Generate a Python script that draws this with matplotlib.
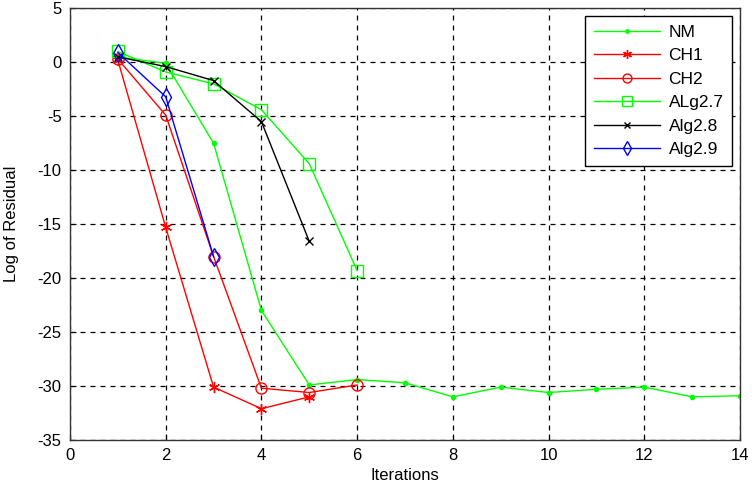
import matplotlib
matplotlib.use("Agg")
import matplotlib.pyplot as plt

plt.rcParams['font.family'] = ['Liberation Sans', 'DejaVu Sans']
plt.rcParams['axes.unicode_minus'] = False

# данные
it_nm = [1, 2, 3, 4, 5, 6, 7, 8, 9, 10, 11, 12, 13, 14]
nm = [0.5, -0.1, -7.5, -23.0, -29.9, -29.4, -29.7, -31.0, -30.1, -30.6, -30.3, -30.1, -31.0, -30.9]

it_ch1 = [1, 2, 3, 4, 5]
ch1 = [0.2, -15.3, -30.1, -32.1, -31.0]

it_ch2 = [1, 2, 3, 4, 5, 6]
ch2 = [0.3, -4.9, -18.0, -30.2, -30.6, -29.9]

it_a27 = [1, 2, 3, 4, 5, 6]
a27 = [1.0, -0.9, -2.0, -4.4, -9.4, -19.3]

it_a28 = [1, 2, 3, 4, 5]
a28 = [0.5, -0.4, -1.7, -5.5, -16.6]

it_a29 = [1, 2, 3]
a29 = [0.9, -3.2, -18.0]

fig = plt.figure(figsize=(7.52, 4.83), dpi=100)
ax = fig.add_axes([70 / 752, 43 / 483, 670 / 752, 431.7 / 483])

ax.plot(it_nm, nm, color=(0, 1, 0), lw=1, marker='.', ms=6, label='NM')
ax.plot(it_ch1, ch1, color='red', lw=1, marker=(6, 2, 0), ms=8, mew=1, label='CH1')
ax.plot(it_ch2, ch2, color='red', lw=1, marker='o', ms=8, mfc='none', mew=1, label='CH2')
ax.plot(it_a27, a27, color=(0, 1, 0), lw=1, marker='s', ms=9, mfc='none', mew=1, label='ALg2.7')
ax.plot(it_a28, a28, color='black', lw=1, marker='x', ms=6, mew=1, label='Alg2.8')
ax.plot(it_a29, a29, color='blue', lw=1, marker='d', ms=9, mfc='none', mew=1, label='Alg2.9')

ax.set_xlim(0, 14)
ax.set_ylim(-35, 5)
ax.set_xticks(range(0, 15, 2))
ax.set_yticks(range(-35, 6, 5))
ax.grid(True, color='black', linestyle=(0, (4, 4)), lw=0.9)
ax.tick_params(direction='in', length=4, labelsize=12, colors='black', pad=6)
for s in ax.spines.values():
    s.set_color('#333333')
    s.set_linewidth(1)

ax.set_xlabel('Iterations', fontsize=12, labelpad=3)
ax.set_ylabel('Log of Residual', fontsize=12, labelpad=13)

leg = ax.legend(loc='upper right', fontsize=12.5, fancybox=False, framealpha=1,
                edgecolor='black', handlelength=3.8, handletextpad=0.5,
                labelspacing=0.48, borderpad=0.5, borderaxespad=0.45, markerscale=0.8)
leg.get_frame().set_linewidth(1)

fig.savefig('out.png', dpi=100)
